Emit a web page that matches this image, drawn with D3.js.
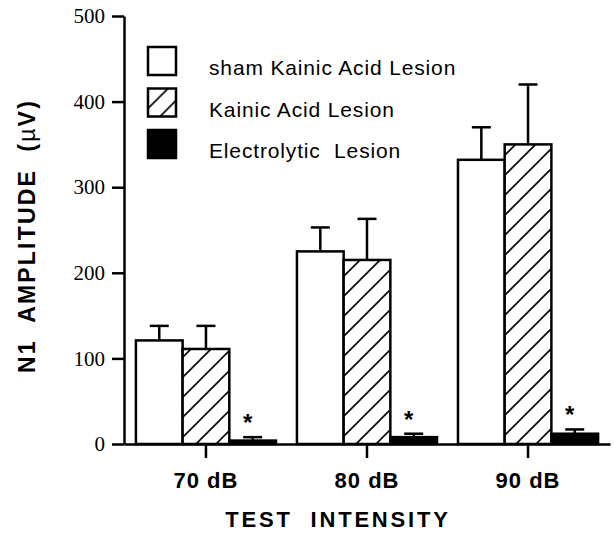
<html>
  <head>
    <script src="https://d3js.org/d3.v7.min.js"></script>
    <style>
      body { margin: 0; background: #fff; }
      .axis path, .axis line { stroke: #000; stroke-width: 2.5; }
      .y.axis text { font-family: "Liberation Serif", "Times New Roman", serif; font-size: 21px; fill: #000; }
      .x.axis text { font-family: "Liberation Sans", Arial, sans-serif; font-size: 22px; font-weight: bold; fill: #000; letter-spacing: 1px; }
      .legend text { font-family: "Liberation Sans", Arial, sans-serif; font-size: 21px; letter-spacing: 0.85px; white-space: pre; }
      .title { font-family: "Liberation Sans", Arial, sans-serif; font-weight: bold; white-space: pre; }
    </style>
  </head>
  <body>
    <svg id="chart" width="614" height="542"></svg>
    <script>
      // values (N1 amplitude, µV, mean + SEM)
      const intensities = ["70 dB", "80 dB", "90 dB"];
      const lesionGroups = ["sham Kainic Acid Lesion", "Kainic Acid Lesion", "Electrolytic  Lesion"];
      const shamMean = [121, 225, 332];
      const shamErr = [17, 28, 38];
      const kainicMean = [111, 215, 350];
      const kainicErr = [27, 48, 70];
      const electroMean = [4, 8, 12];
      const electroErr = [4, 4, 5];
      const starredGroup = "Electrolytic  Lesion"; // p < .05 vs sham
      const yTicks = [0, 100, 200, 300, 400, 500];

      const means = [shamMean, kainicMean, electroMean];
      const errs = [shamErr, kainicErr, electroErr];

      const svg = d3.select("svg#chart");
      const margin = { top: 16, right: 4, bottom: 98, left: 124 };
      const width = +svg.attr("width");
      const height = +svg.attr("height");

      // pattern for kainic acid bars
      const defs = svg.append("defs");
      const pat = defs.append("pattern")
        .attr("id", "hatch")
        .attr("patternUnits", "userSpaceOnUse")
        .attr("width", 20)
        .attr("height", 20);
      pat.append("rect").attr("width", 20).attr("height", 20).attr("fill", "#fff");
      pat.append("path")
        .attr("d", "M-5,5 L5,-5 M0,20 L20,0 M15,25 L25,15")
        .attr("stroke", "#000")
        .attr("stroke-width", 1.6);
      const fills = ["#fff", "url(#hatch)", "#000"];

      const x = d3.scaleBand()
        .domain(intensities)
        .range([margin.left, width - margin.right])
        .paddingInner(0.13)
        .paddingOuter(0.074);

      const xInner = d3.scaleBand()
        .domain(lesionGroups)
        .range([0, x.bandwidth()])
        .padding(0);

      const y = d3.scaleLinear()
        .domain([0, 500])
        .range([height - margin.bottom, margin.top]);

      const rows = [];
      intensities.forEach((c, i) => {
        lesionGroups.forEach((g, j) => {
          rows.push({ cat: c, group: g, j: j, mean: means[j][i], err: errs[j][i] });
        });
      });

      // axes
      svg.append("g")
        .attr("class", "y axis")
        .attr("transform", `translate(${margin.left},0)`)
        .call(d3.axisLeft(y).tickValues(yTicks).tickSize(12).tickSizeOuter(0).tickPadding(7));

      const bars = svg.append("g").attr("class", "bars");

      bars.selectAll("rect")
        .data(rows)
        .join("rect")
        .attr("x", (d) => x(d.cat) + xInner(d.group))
        .attr("y", (d) => y(d.mean))
        .attr("width", xInner.bandwidth())
        .attr("height", (d) => y(0) - y(d.mean))
        .attr("fill", (d) => fills[d.j])
        .attr("stroke", "#000")
        .attr("stroke-width", 2.5);

      // error bars (upper half only)
      const eb = bars.selectAll("g.err")
        .data(rows)
        .join("g")
        .attr("class", "err")
        .attr("transform", (d) => `translate(${x(d.cat) + xInner(d.group) + xInner.bandwidth() / 2},0)`);
      eb.append("line")
        .attr("y1", (d) => y(d.mean))
        .attr("y2", (d) => y(d.mean + d.err))
        .attr("stroke", "#000")
        .attr("stroke-width", 2.5);
      eb.append("line")
        .attr("x1", -9.5)
        .attr("x2", 9.5)
        .attr("y1", (d) => y(d.mean + d.err))
        .attr("y2", (d) => y(d.mean + d.err))
        .attr("stroke", "#000")
        .attr("stroke-width", 2.5);

      // asterisks
      bars.selectAll("text.star")
        .data(rows.filter((d) => d.group === starredGroup))
        .join("text")
        .attr("class", "star")
        .attr("x", (d) => x(d.cat) + xInner(d.group) + xInner.bandwidth() / 2 - 5)
        .attr("y", (d) => y(d.mean + d.err) - 6)
        .attr("text-anchor", "middle")
        .style("font-family", "Liberation Sans, Arial, sans-serif")
        .style("font-size", "24px")
        .style("font-weight", "bold")
        .text("*");

      svg.append("g")
        .attr("class", "x axis")
        .attr("transform", `translate(0,${y(0)})`)
        .call(d3.axisBottom(x).tickSize(14).tickSizeOuter(0).tickPadding(14));

      // legend
      const legend = svg.append("g").attr("class", "legend");
      const li = legend.selectAll("g")
        .data(lesionGroups)
        .join("g")
        .attr("transform", (d, i) => `translate(148,${47 + i * 41.5})`);
      li.append("rect")
        .attr("width", 28)
        .attr("height", 28)
        .attr("fill", (d, i) => fills[i])
        .attr("stroke", "#000")
        .attr("stroke-width", 2.5);
      li.append("text")
        .attr("x", 61)
        .attr("y", 28)
        .text((d) => d);

      // axis titles
      svg.append("text")
        .attr("class", "title")
        .attr("x", 338)
        .attr("y", 527)
        .attr("text-anchor", "middle")
        .style("font-size", "22px")
        .style("letter-spacing", "2.8px")
        .text("TEST  INTENSITY");

      const yt = svg.append("text")
        .attr("class", "title")
        .attr("transform", "translate(35,236) rotate(-90)")
        .attr("text-anchor", "middle")
        .style("font-size", "23px")
        .style("letter-spacing", "2.2px");
      yt.append("tspan").text("N1  AMPLITUDE  (");
      yt.append("tspan").style("font-weight", "normal").text("µ");
      yt.append("tspan").text("V)");
    </script>
  </body>
</html>
